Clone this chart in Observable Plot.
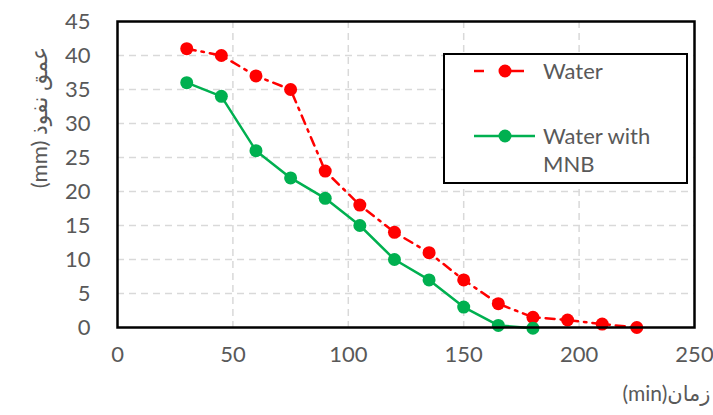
<!DOCTYPE html>
<html>
<head>
<meta charset="utf-8">
<script src="https://cdn.jsdelivr.net/npm/d3@7"></script>
<script src="https://cdn.jsdelivr.net/npm/@observablehq/plot@0.6"></script>
<style>
  html, body { margin: 0; padding: 0; background: #fff; }
  #wrap { position: relative; width: 713px; height: 415px; }
  #legend { position: absolute; left: 443px; top: 53px; width: 241px; height: 127px;
            border: 2px solid #000; background: #fff; box-sizing: content-box; }
</style>
</head>
<body>
<div id="wrap"></div>
<script>
// ---- data ----
const waterTimes = [30, 45, 60, 75, 90, 105, 120, 135, 150, 165, 180, 195, 210, 225];
const waterDepth = [41, 40, 37, 35, 23, 18, 14, 11, 7, 3.5, 1.5, 1.1, 0.5, 0];
const mnbTimes = [30, 45, 60, 75, 90, 105, 120, 135, 150, 165, 180];
const mnbDepth = [36, 34, 26, 22, 19, 15, 10, 7, 3, 0.3, -0.1];
const xTicks = [0, 50, 100, 150, 200, 250];
const yTicks = [0, 5, 10, 15, 20, 25, 30, 35, 40, 45];
const seriesNames = ["Water", "Water with", "MNB"];
const xTitle = "(min)زمان";
const yTitle = "(mm) عمق نفوذ";

const water = waterTimes.map((t, i) => ({t, d: waterDepth[i]}));
const mnb = mnbTimes.map((t, i) => ({t, d: mnbDepth[i]}));

const RED = "#ff0000", GREEN = "#00b050", GRAY = "#595959";
const FONT = "Lato, 'DejaVu Sans', sans-serif";

const chart = Plot.plot({
  width: 713, height: 415,
  marginLeft: 117, marginRight: 19, marginTop: 21, marginBottom: 88,
  x: {domain: [0, 250]},
  y: {domain: [0, 45]},
  style: {fontFamily: FONT, fontSize: "22px", color: GRAY, background: "#fff"},
  marks: [
    Plot.gridX(xTicks.filter(d => d > 0 && d < 250), {stroke: "#d9d9d9", strokeOpacity: 1, strokeWidth: 1.5, strokeDasharray: "7,5"}),
    Plot.gridY(yTicks.filter(d => d > 0 && d < 45), {stroke: "#d9d9d9", strokeOpacity: 1, strokeWidth: 1.5, strokeDasharray: "7,5"}),
    Plot.axisX(xTicks, {tickSize: 0, tickPadding: 19, label: null, fill: GRAY, fontSize: 22}),
    Plot.axisY(yTicks, {tickSize: 0, tickPadding: 27, label: null, fill: GRAY, fontSize: 22}),
    Plot.line(water, {x: "t", y: "d", stroke: RED, strokeWidth: 2.5, strokeDasharray: "9,6,2.5,6"}),
    Plot.dot(water, {x: "t", y: "d", r: 6.5, fill: RED, stroke: "none"}),
    Plot.line(mnb, {x: "t", y: "d", stroke: GREEN, strokeWidth: 2.5}),
    Plot.dot(mnb, {x: "t", y: "d", r: 6.5, fill: GREEN, stroke: "none"}),
    Plot.frame({stroke: "#000", strokeWidth: 2.5}),
    Plot.text([xTitle], {frameAnchor: "bottom-right", dx: 16, dy: 73, textAnchor: "end", fill: GRAY, fontSize: 21, fontFamily: FONT}),
    Plot.text([yTitle], {frameAnchor: "top-left", dx: -86, dy: 96, rotate: -90, textAnchor: "middle", fill: GRAY, fontSize: 22, fontFamily: FONT})
  ]
});

const wrap = document.getElementById("wrap");
wrap.appendChild(chart);

// legend
const legend = document.createElement("div");
legend.id = "legend";
legend.innerHTML = `
<svg width="241" height="127" style="display:block;font-family:${FONT};font-size:22px;fill:${GRAY}">
  <line x1="29" x2="39" y1="16" y2="16" stroke="${RED}" stroke-width="2.5"/>
  <line x1="60" x2="79" y1="16" y2="16" stroke="${RED}" stroke-width="2.5"/>
  <circle cx="60" cy="16" r="6.5" fill="${RED}"/>
  <text x="98" y="16" dy="0.35em">${seriesNames[0]}</text>
  <line x1="29" x2="90" y1="81" y2="81" stroke="${GREEN}" stroke-width="2.5"/>
  <circle cx="60" cy="81" r="6.5" fill="${GREEN}"/>
  <text x="98" y="81" dy="0.35em">${seriesNames[1]}</text>
  <text x="98" y="109" dy="0.35em">${seriesNames[2]}</text>
</svg>`;
wrap.appendChild(legend);
</script>
</body>
</html>
